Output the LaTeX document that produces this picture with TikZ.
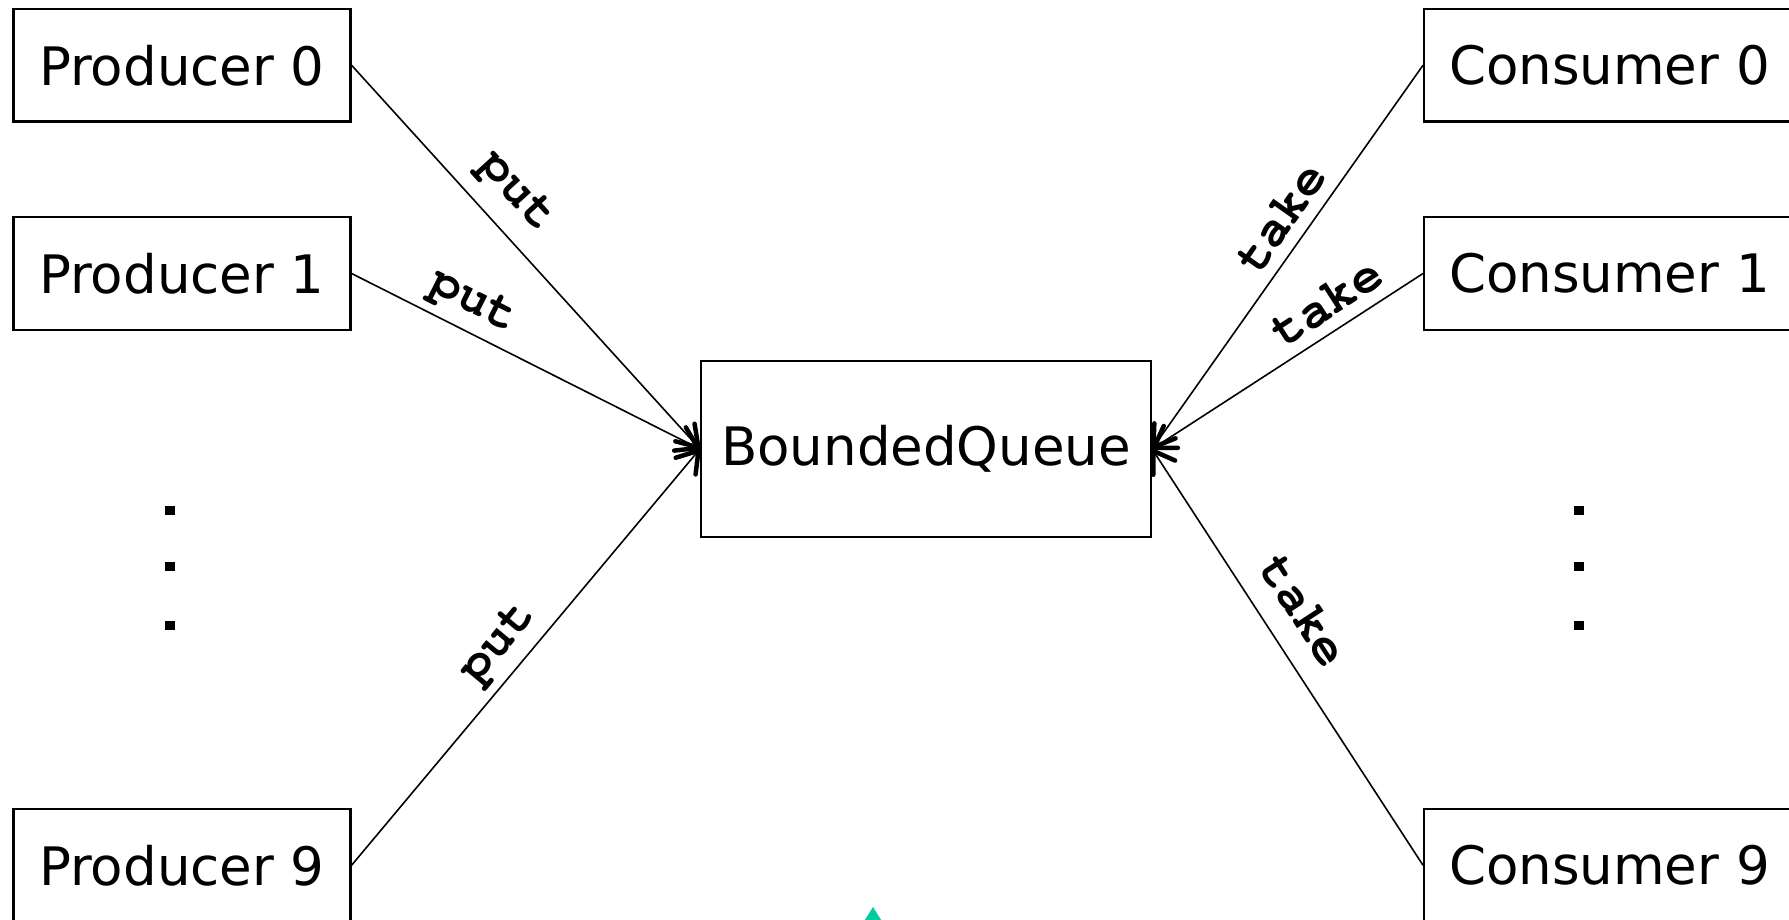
\documentclass[tikz,border=0pt]{standalone}
\usepackage{fontspec}
\setmainfont{DejaVu Sans}
\usetikzlibrary{arrows.meta}
\definecolor{tealmark}{RGB}{0,204,160}
\newcommand{\courierbold}{\fontencoding{T1}\fontfamily{pcr}\fontseries{b}\fontshape{n}\fontsize{51}{56}\selectfont}
\begin{document}
\begin{tikzpicture}[x=1pt,y=-1pt,
  box/.style={draw, line width=2.2pt, minimum height=112.5pt, inner xsep=25pt, inner ysep=0pt, font=\fontsize{53}{60}\selectfont},
  qbox/.style={draw, line width=2.2pt, minimum height=176pt, minimum width=450pt, font=\fontsize{53}{60}\selectfont},
  conn/.style={line width=1.6pt, -{Straight Barb[length=20pt,width=26pt,line width=4.5pt,round]}},
  lbl/.style={sloped, above, inner sep=11pt, font=\courierbold},
  dotsq/.style={fill=black, minimum size=9.5pt, inner sep=0pt}
]
\useasboundingbox (0,0) rectangle (1789,919);
\clip (0,0) rectangle (1789,919);
% producers
\node[box, minimum width=337pt] (p0) at (182,65.25) {Producer 0};
\node[box, minimum width=337pt] (p1) at (182,273.5) {Producer 1};
\node[box, minimum width=337pt] (p9) at (182,865.25) {Producer 9};
% consumers
\node[box, anchor=west] (c0) at (1423,65.25) {Consumer 0};
\node[box, anchor=west] (c1) at (1423,273.5) {Consumer 1};
\node[box, anchor=west] (c9) at (1423,865.25) {Consumer 9};
% queue
\node[qbox] (bq) at (926,449) {BoundedQueue};
% dots
\node[dotsq] (ld1) at (170,510.5) {};
\node[dotsq] (ld2) at (170,566.5) {};
\node[dotsq] (ld3) at (170,625.5) {};
\node[dotsq] (rd1) at (1579,510.5) {};
\node[dotsq] (rd2) at (1579,566.5) {};
\node[dotsq] (rd3) at (1579,625.5) {};
% connectors
\draw[conn] (p0.east) -- node[lbl, pos=0.395, inner sep=18pt] {put} (bq.west);
\draw[conn] (p1.east) -- node[lbl, pos=0.31] {put} (bq.west);
\draw[conn] (p9.east) -- node[lbl, pos=0.487] {put} (bq.west);
\draw[conn] (c0.west) -- node[lbl, pos=0.44] {take} (bq.east);
\draw[conn] (c1.west) -- node[lbl, pos=0.30] {take} (bq.east);
\draw[conn] (c9.west) -- node[lbl, pos=0.56, inner sep=22pt] {take} (bq.east);
% teal mark
\fill[tealmark] (873,907) -- (884.25,925) -- (861.75,925) -- cycle;
\end{tikzpicture}
\end{document}
